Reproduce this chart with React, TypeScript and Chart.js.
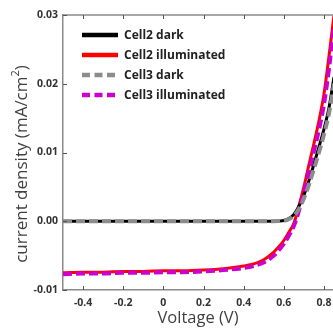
import React, { useEffect, useRef } from "react";
import { Chart, registerables } from "chart.js";

Chart.register(...registerables);

const voltage = [-0.5, -0.4, -0.3, -0.2, -0.1, 0, 0.1, 0.2, 0.3, 0.4, 0.45, 0.5, 0.55, 0.575, 0.6, 0.625, 0.65, 0.675, 0.7, 0.725, 0.75, 0.775, 0.8, 0.825, 0.85];
const cell2Dark = [0, 0, 0, 0, 0, 0, 0, 0, 0, 0, 0, 0, 0, 0.00003, 0.0001, 0.0004, 0.001, 0.0022, 0.0038, 0.0059, 0.0083, 0.0108, 0.0134, 0.0165, 0.021];
const cell2Illum = [-0.0075, -0.0074, -0.0074, -0.0073, -0.0073, -0.0072, -0.0072, -0.0071, -0.0069, -0.0065, -0.0062, -0.0056, -0.0045, -0.0037, -0.0028, -0.0016, -0.0003, 0.0022, 0.005, 0.0082, 0.0113, 0.0146, 0.0185, 0.024, 0.03];
const cell3Dark = [0, 0, 0, 0, 0, 0, 0, 0, 0, 0, 0, 0, 0, 0.00002, 0.00008, 0.0003, 0.0008, 0.0018, 0.0033, 0.0053, 0.0076, 0.01, 0.0126, 0.0157, 0.02];
const cell3Illum = [-0.0077, -0.0076, -0.0076, -0.0075, -0.0075, -0.0074, -0.0074, -0.0073, -0.0071, -0.0068, -0.0065, -0.006, -0.005, -0.0042, -0.0033, -0.0021, -0.0007, 0.0015, 0.0042, 0.0072, 0.0102, 0.0133, 0.017, 0.0222, 0.0285];

const seriesLabels = ["Cell2 dark", "Cell2 illuminated", "Cell3 dark", "Cell3 illuminated"];
const xTicks = [-0.4, -0.2, 0, 0.2, 0.4, 0.6, 0.8];
const yTicks = [-0.01, 0, 0.01, 0.02, 0.03];
const xTitle = "Voltage (V)";
const yTitleMain = "current density (mA/cm";
const yTitleSup = "2";
const yTitleEnd = ")";

const TITLE_FONT = "'Open Sans', sans-serif";
const TICK_FONT = "'Open Sans', sans-serif";

const toPoints = (ys: number[]) => voltage.map((v, i) => ({ x: v, y: ys[i] }));

const extrasPlugin = {
  id: "extras",
  afterDatasetsDraw(chart: any) {
    const { ctx, chartArea, scales } = chart;
    const xs = scales.x;
    const ys = scales.y;
    ctx.save();
    // top border
    ctx.strokeStyle = "#8a8a8a";
    ctx.lineWidth = 1.5;
    ctx.beginPath();
    ctx.moveTo(chartArea.left, chartArea.top);
    ctx.lineTo(chartArea.right, chartArea.top);
    ctx.stroke();
    // inward ticks
    ctx.strokeStyle = "#555";
    ctx.lineWidth = 1;
    xs.ticks.forEach((t: any) => {
      const px = Math.round(xs.getPixelForValue(t.value)) + 0.5;
      ctx.beginPath();
      ctx.moveTo(px, chartArea.bottom);
      ctx.lineTo(px, chartArea.bottom - 4);
      ctx.moveTo(px, chartArea.top);
      ctx.lineTo(px, chartArea.top + 4);
      ctx.stroke();
    });
    ys.ticks.forEach((t: any) => {
      const py = Math.round(ys.getPixelForValue(t.value)) + 0.5;
      ctx.beginPath();
      ctx.moveTo(chartArea.left, py);
      ctx.lineTo(chartArea.left + 4, py);
      ctx.stroke();
    });
    // legend
    const ds = chart.data.datasets;
    ds.forEach((d: any, row: number) => {
      const y = 35 + row * 20;
      ctx.strokeStyle = d.borderColor;
      ctx.lineWidth = 4.5;
      ctx.setLineDash(d.borderDash ? [8, 4.5] : []);
      ctx.beginPath();
      ctx.moveTo(82, y);
      ctx.lineTo(118, y);
      ctx.stroke();
      ctx.setLineDash([]);
      ctx.fillStyle = "#222";
      ctx.font = "bold 12px " + TITLE_FONT;
      ctx.textBaseline = "middle";
      ctx.textAlign = "left";
      ctx.fillText(d.label, 124, y + 1);
    });
    // y-axis title with superscript
    ctx.translate(27, 164);
    ctx.rotate(-Math.PI / 2);
    ctx.fillStyle = "#404040";
    ctx.textBaseline = "alphabetic";
    ctx.textAlign = "left";
    const mainFont = "17px " + TITLE_FONT;
    const supFont = "11px " + TITLE_FONT;
    ctx.font = mainFont;
    const w1 = ctx.measureText(yTitleMain).width;
    const w3 = ctx.measureText(yTitleEnd).width;
    ctx.font = supFont;
    const w2 = ctx.measureText(yTitleSup).width;
    const total = w1 + w2 + w3;
    let x0 = -total / 2;
    ctx.font = mainFont;
    ctx.fillText(yTitleMain, x0, 0);
    x0 += w1;
    ctx.font = supFont;
    ctx.fillText(yTitleSup, x0, -8);
    x0 += w2;
    ctx.font = mainFont;
    ctx.fillText(yTitleEnd, x0, 0);
    ctx.restore();
  },
};

export default function App() {
  const ref = useRef<HTMLCanvasElement | null>(null);
  useEffect(() => {
    if (!ref.current) return;
    const chart = new Chart(ref.current, {
      type: "line",
      data: {
        datasets: [
          {
            label: seriesLabels[0],
            data: toPoints(cell2Dark),
            borderColor: "#000000",
            borderWidth: 3,
            pointRadius: 0,
            cubicInterpolationMode: "monotone",
            order: 1,
          },
          {
            label: seriesLabels[1],
            data: toPoints(cell2Illum),
            borderColor: "#ff0000",
            borderWidth: 3,
            pointRadius: 0,
            cubicInterpolationMode: "monotone",
            order: 1,
          },
          {
            label: seriesLabels[2],
            data: toPoints(cell3Dark),
            borderColor: "#8c8c8c",
            borderWidth: 4,
            borderDash: [9, 4],
            pointRadius: 0,
            cubicInterpolationMode: "monotone",
            order: 0,
          },
          {
            label: seriesLabels[3],
            data: toPoints(cell3Illum),
            borderColor: "#cc00cc",
            borderWidth: 4,
            borderDash: [9, 4],
            pointRadius: 0,
            cubicInterpolationMode: "monotone",
            order: 0,
          },
        ],
      } as any,
      options: {
        animation: false,
        responsive: false,
        layout: { padding: { top: 15, right: 0, left: 0, bottom: 0 } },
        plugins: { legend: { display: false }, tooltip: { enabled: false } },
        scales: {
          x: {
            type: "linear",
            min: -0.5,
            max: 0.845,
            afterBuildTicks: (s: any) => {
              s.ticks = xTicks.map((v) => ({ value: v }));
            },
            afterFit: (s: any) => {
              s.height = 41;
              s.paddingLeft = 0;
              s.paddingRight = 0;
            },
            grid: { display: false, drawTicks: false },
            border: { display: true, color: "#8a8a8a", width: 1.5 },
            ticks: {
              padding: 7,
              color: "#333",
              font: { family: TICK_FONT, size: 10.5, weight: "bold" },
              maxRotation: 0,
              autoSkip: false,
              callback: (v: any) => (Number(v) === 0 ? "0" : Number(v).toFixed(1)),
            },
            title: {
              display: true,
              text: xTitle,
              color: "#404040",
              font: { family: TITLE_FONT, size: 16.5 },
              padding: { top: 0, bottom: 3 },
            },
          },
          y: {
            type: "linear",
            min: -0.01,
            max: 0.03,
            afterBuildTicks: (s: any) => {
              s.ticks = yTicks.map((v) => ({ value: v }));
            },
            afterFit: (s: any) => {
              s.width = 63;
              s.paddingTop = 0;
              s.paddingBottom = 0;
            },
            grid: { display: false, drawTicks: false },
            border: { display: true, color: "#8a8a8a", width: 1.5 },
            ticks: {
              padding: 5,
              color: "#333",
              font: { family: TICK_FONT, size: 10.5, weight: "bold" },
              autoSkip: false,
              callback: (v: any) => Number(v).toFixed(2),
            },
            title: { display: false },
          },
        },
      } as any,
      plugins: [extrasPlugin],
    });
    return () => chart.destroy();
  }, []);
  return (
    <div style={{ position: "absolute", left: 0, top: 0, width: 333, height: 331, background: "#fff" }}>
      <canvas ref={ref} width={333} height={331} style={{ display: "block" }} />
    </div>
  );
}
